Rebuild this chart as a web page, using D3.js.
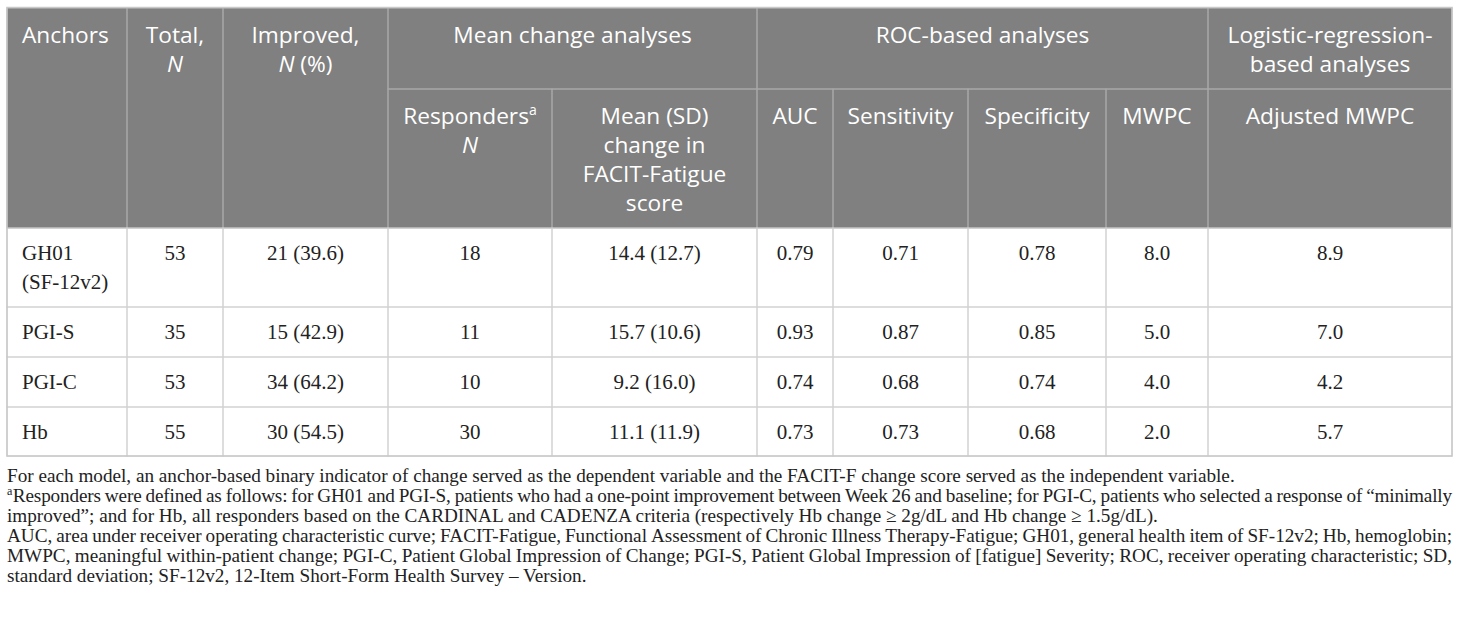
<!DOCTYPE html>
<html>
<head>
<meta charset="utf-8">
<script src="https://cdn.jsdelivr.net/npm/d3@7"></script>
<style>
  body { margin: 0; background: #fff; }
</style>
</head>
<body>
<div id="chart"></div>
<script>
// ////////////////////////////////////////////////////////////////////////////
// DATA
// ////////////////////////////////////////////////////////////////////////////
const anchors = [['GH01', '(SF-12v2)'], ['PGI-S'], ['PGI-C'], ['Hb']];
const totalN = [53, 35, 53, 55];
const improvedN = [21, 15, 34, 30];
const improvedPct = [39.6, 42.9, 64.2, 54.5];
const respondersN = [18, 11, 10, 30];
const meanChange = [14.4, 15.7, 9.2, 11.1];
const sdChange = [12.7, 10.6, 16.0, 11.9];
const auc = [0.79, 0.93, 0.74, 0.73];
const sensitivity = [0.71, 0.87, 0.68, 0.73];
const specificity = [0.78, 0.85, 0.74, 0.68];
const mwpc = [8.0, 5.0, 4.0, 2.0];
const adjustedMwpc = [8.9, 7.0, 4.2, 5.7];

const columns = ['anchor', 'total', 'improved', 'responders', 'mean', 'auc', 'sens', 'spec', 'mwpc', 'adj'];

// header lines: each line is a list of [text, italic, sup]
const groupHeaders = [
  { col: 'anchor', span: 1, rows: 2, lines: [[['Anchors']]] },
  { col: 'total', span: 1, rows: 2, lines: [[['Total,']], [['N', true]]] },
  { col: 'improved', span: 1, rows: 2, lines: [[['Improved,']], [['N', true], [' (%)']]] },
  { col: 'responders', span: 2, rows: 1, lines: [[['Mean change analyses']]] },
  { col: 'auc', span: 4, rows: 1, lines: [[['ROC-based analyses']]] },
  { col: 'adj', span: 1, rows: 1, lines: [[['Logistic-regression-']], [['based analyses']]] },
];
const subHeaders = [
  { col: 'responders', lines: [[['Responders'], ['a', false, true]], [['N', true]]] },
  { col: 'mean', lines: [[['Mean (SD)']], [['change in']], [['FACIT-Fatigue']], [['score']]] },
  { col: 'auc', lines: [[['AUC']]] },
  { col: 'sens', lines: [[['Sensitivity']]] },
  { col: 'spec', lines: [[['Specificity']]] },
  { col: 'mwpc', lines: [[['MWPC']]] },
  { col: 'adj', lines: [[['Adjusted MWPC']]] },
];

const footnotes = [
  { text: 'For each model, an anchor-based binary indicator of change served as the dependent variable and the FACIT-F change score served as the independent variable.', justify: false },
  { text: 'Responders were defined as follows: for GH01 and PGI-S, patients who had a one-point improvement between Week 26 and baseline; for PGI-C, patients who selected a response of \u201cminimally', justify: true, sup: 'a' },
  { text: 'improved\u201d; and for Hb, all responders based on the CARDINAL and CADENZA criteria (respectively Hb change \u2265 2g/dL and Hb change \u2265 1.5g/dL).', justify: false },
  { text: 'AUC, area under receiver operating characteristic curve; FACIT-Fatigue, Functional Assessment of Chronic Illness Therapy-Fatigue; GH01, general health item of SF-12v2; Hb, hemoglobin;', justify: true },
  { text: 'MWPC, meaningful within-patient change; PGI-C, Patient Global Impression of Change; PGI-S, Patient Global Impression of [fatigue] Severity; ROC, receiver operating characteristic; SD,', justify: true },
  { text: 'standard deviation; SF-12v2, 12-Item Short-Form Health Survey \u2013 Version.', justify: false },
];

// ////////////////////////////////////////////////////////////////////////////
// LAYOUT
// ////////////////////////////////////////////////////////////////////////////
const W = 1460;
const H = 617;
const tableLeft = 7;
const tableTop = 8;
const colWidths = [120, 96, 165, 164, 205, 76, 135, 138, 102, 244];
const headerHeights = [81, 139];
const bodyHeights = [79, 50, 50, 49];

const colEdges = [tableLeft, ...d3.cumsum(colWidths).map(d => d + tableLeft)];
const x = d3.scaleOrdinal().domain(columns).range(colEdges.slice(0, -1));
const colW = d3.scaleOrdinal().domain(columns).range(colWidths);
const tableRight = colEdges[colEdges.length - 1];

const headerEdges = [tableTop, ...d3.cumsum(headerHeights).map(d => d + tableTop)];
const bodyTop = headerEdges[2];
const rowEdges = [bodyTop, ...d3.cumsum(bodyHeights).map(d => d + bodyTop)];
const y = d3.scaleOrdinal().domain(d3.range(anchors.length)).range(rowEdges.slice(0, -1));
const tableBottom = rowEdges[rowEdges.length - 1];

const HEAD_BG = '#808080';
const HEAD_LINE = '#a8a8a8';
const BODY_LINE = '#d2d2d2';
const TEXT = '#222';
const SANS = '"Open Sans", "Noto Sans", sans-serif';
const SERIF = '"Liberation Serif", "DejaVu Serif", serif';

const svg = d3.select('#chart').append('svg')
  .attr('width', W)
  .attr('height', H)
  .style('display', 'block');

const g = svg.append('g');

// write lines of [text, italic, sup] pieces into a text element
function writeLines(sel, lines, cx, top, anchor, lineH, firstBase) {
  lines.forEach((line, i) => {
    const t = sel.append('text')
      .attr('x', cx)
      .attr('y', top + firstBase + i * lineH)
      .attr('text-anchor', anchor);
    line.forEach(([txt, ital, sup]) => {
      const ts = t.append('tspan').text(txt);
      if (ital) ts.style('font-style', 'italic');
      if (sup) ts.attr('dy', -9).style('font-size', '14px');
    });
  });
}

// ////////////////////////////////////////////////////////////////////////////
// HEADER
// ////////////////////////////////////////////////////////////////////////////
const head = g.append('g')
  .attr('fill', '#fff')
  .style('font-family', SANS)
  .style('font-size', '22.7px');

head.append('rect')
  .attr('x', tableLeft)
  .attr('y', tableTop)
  .attr('width', tableRight - tableLeft)
  .attr('height', bodyTop - tableTop)
  .attr('fill', HEAD_BG);

groupHeaders.forEach((h) => {
  const i = columns.indexOf(h.col);
  const x0 = colEdges[i];
  const x1 = colEdges[i + h.span];
  const y1 = headerEdges[h.rows];
  head.append('rect')
    .attr('x', x0).attr('y', tableTop)
    .attr('width', x1 - x0).attr('height', y1 - tableTop)
    .attr('fill', 'none').attr('stroke', HEAD_LINE).attr('stroke-width', 1);
  const left = h.col === 'anchor';
  writeLines(head, h.lines, left ? x0 + 15 : (x0 + x1) / 2, tableTop, left ? 'start' : 'middle', 29, 35);
});

subHeaders.forEach((h) => {
  const x0 = x(h.col);
  head.append('rect')
    .attr('x', x0).attr('y', headerEdges[1])
    .attr('width', colW(h.col)).attr('height', headerHeights[1])
    .attr('fill', 'none').attr('stroke', HEAD_LINE).attr('stroke-width', 1);
  writeLines(head, h.lines, x0 + colW(h.col) / 2, headerEdges[1], 'middle', 29, 35);
});

// ////////////////////////////////////////////////////////////////////////////
// BODY
// ////////////////////////////////////////////////////////////////////////////
const f1 = d3.format('.1f');
const f2 = d3.format('.2f');

const cellText = (r) => ({
  anchor: anchors[r].map(s => [[s]]),
  total: [[[`${totalN[r]}`]]],
  improved: [[[`${improvedN[r]} (${f1(improvedPct[r])})`]]],
  responders: [[[`${respondersN[r]}`]]],
  mean: [[[`${f1(meanChange[r])} (${f1(sdChange[r])})`]]],
  auc: [[[f2(auc[r])]]],
  sens: [[[f2(sensitivity[r])]]],
  spec: [[[f2(specificity[r])]]],
  mwpc: [[[f1(mwpc[r])]]],
  adj: [[[f1(adjustedMwpc[r])]]],
});

const body = g.append('g')
  .attr('fill', TEXT)
  .style('font-family', SERIF)
  .style('font-size', '21px');

anchors.forEach((a, r) => {
  const cells = cellText(r);
  columns.forEach((c) => {
    body.append('rect')
      .attr('x', x(c)).attr('y', y(r))
      .attr('width', colW(c)).attr('height', bodyHeights[r])
      .attr('fill', 'none').attr('stroke', BODY_LINE).attr('stroke-width', 1);
    const left = c === 'anchor';
    writeLines(body, cells[c], left ? x(c) + 15 : x(c) + colW(c) / 2, y(r), left ? 'start' : 'middle', 29, 32);
  });
});

// outer frame
g.append('rect')
  .attr('x', tableLeft).attr('y', tableTop - 0.5)
  .attr('width', tableRight - tableLeft).attr('height', tableBottom - tableTop + 0.5)
  .attr('fill', 'none').attr('stroke', '#c8c8c8').attr('stroke-width', 1.5);

// ////////////////////////////////////////////////////////////////////////////
// FOOTNOTES
// ////////////////////////////////////////////////////////////////////////////
const notes = g.append('g')
  .attr('fill', TEXT)
  .style('font-family', SERIF)
  .style('font-size', '19.2px');

const noteTop = 482;
const noteLineH = 20;
const minGap = 4;

footnotes.forEach((fn, i) => {
  const yy = noteTop + i * noteLineH;
  let startX = tableLeft;
  if (fn.sup) {
    const s = notes.append('text')
      .attr('x', startX).attr('y', yy - 7)
      .style('font-size', '12px')
      .text(fn.sup);
    startX += s.node().getComputedTextLength() + 0.5;
  }
  const t = notes.append('text').attr('y', yy);
  if (!fn.justify) {
    t.attr('x', startX).text(fn.text);
    return;
  }
  // justify: spread words to the table edge, tightening letters if needed
  const words = fn.text.split(' ');
  const spans = words.map(w => t.append('tspan').text(w));
  const room = tableRight - startX;
  let widths = spans.map(s => s.node().getComputedTextLength());
  if ((room - d3.sum(widths)) / (words.length - 1) < minGap) {
    const chars = d3.sum(words, w => w.length);
    const ls = (room - minGap * (words.length - 1) - d3.sum(widths)) / chars;
    t.style('letter-spacing', `${ls}px`);
    widths = spans.map(s => s.node().getComputedTextLength());
  }
  const gap = (room - d3.sum(widths)) / (words.length - 1);
  let cx = startX;
  spans.forEach((s, k) => {
    s.attr('x', cx);
    cx += widths[k] + gap;
  });
});
</script>
</body>
</html>
